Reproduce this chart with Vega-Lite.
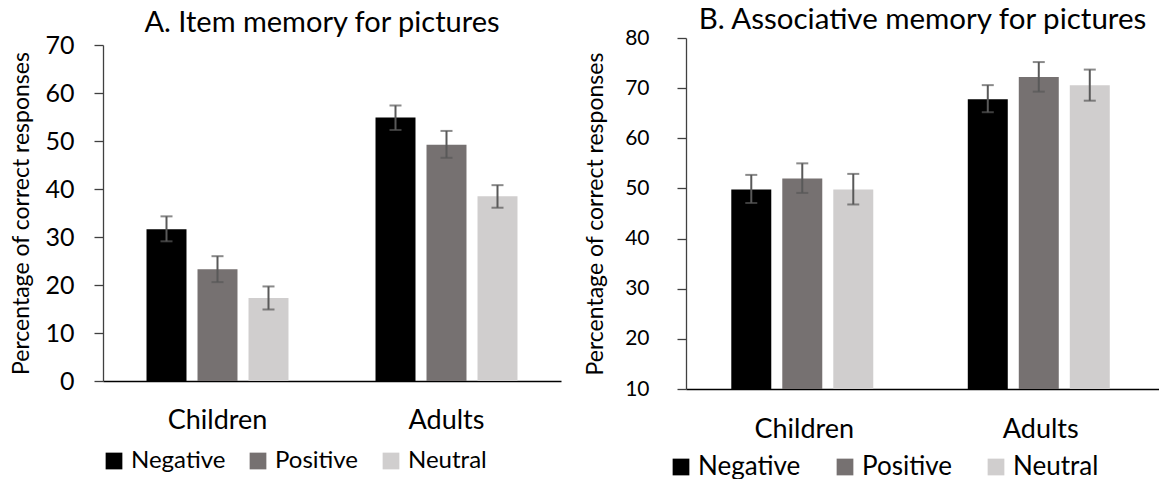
{
  "$schema": "https://vega.github.io/schema/vega-lite/v6.json",
  "background": "white",
  "padding": {"left": 10, "top": 5, "right": 0, "bottom": 0},
  "config": {"font": "Lato", "view": {"stroke": null}},
  "spacing": 23,
  "center": true,
  "resolve": {"scale": {"color": "independent"}, "legend": {"color": "independent"}},
  "hconcat": [
    {
      "width": 458,
      "height": 336,
      "title": {"text": "A. Item memory for pictures", "fontSize": 29, "fontWeight": "normal", "color": "#000000", "offset": -5, "dx": -10},
      "data": {"values": [
        {"group": "Children", "valence": "Negative", "value": 31.6, "lo": 29.1, "hi": 34.3},
        {"group": "Children", "valence": "Positive", "value": 23.3, "lo": 20.6, "hi": 26.0},
        {"group": "Children", "valence": "Neutral", "value": 17.3, "lo": 14.9, "hi": 19.7},
        {"group": "Adults", "valence": "Negative", "value": 54.9, "lo": 52.3, "hi": 57.4},
        {"group": "Adults", "valence": "Positive", "value": 49.2, "lo": 46.5, "hi": 52.1},
        {"group": "Adults", "valence": "Neutral", "value": 38.5, "lo": 36.1, "hi": 40.8}
      ]},
      "encoding": {
        "x": {"field": "group", "type": "nominal", "sort": ["Children", "Adults"],
          "scale": {"paddingInner": 0.38, "paddingOuter": 0.19},
          "axis": {"title": null, "labelAngle": 0, "ticks": false, "tickSize": 0, "labelPadding": 26, "labelFontSize": 27, "labelColor": "#000000", "domainColor": "#000000", "domainWidth": 1.5}},
        "xOffset": {"field": "valence", "type": "nominal", "sort": ["Negative", "Positive", "Neutral"],
          "scale": {"paddingInner": 0.216, "paddingOuter": 0}}
      },
      "layer": [
        {
          "mark": {"type": "bar"},
          "encoding": {
            "y": {"field": "value", "type": "quantitative", "title": "Percentage of correct responses",
              "scale": {"domain": [0, 70]},
              "axis": {"values": [0, 10, 20, 30, 40, 50, 60, 70], "grid": false, "titleFontSize": 23, "titleFontWeight": "normal", "titleColor": "#000000", "titlePadding": 11, "labelFontSize": 25, "labelColor": "#000000", "labelPadding": 20, "tickSize": 9, "tickColor": "#404040", "domainColor": "#404040", "domainWidth": 1.3, "tickWidth": 1.3}},
            "color": {"field": "valence", "type": "nominal",
              "scale": {"domain": ["Negative", "Positive", "Neutral"], "range": ["#000000", "#767171", "#D0CECE"]},
              "legend": {"title": null, "orient": "none", "legendX": -1, "legendY": 404, "direction": "horizontal", "symbolType": "square", "symbolSize": 280, "symbolStrokeWidth": 0, "symbolOpacity": 1, "labelFontSize": 24, "labelColor": "#000000", "labelOffset": 5, "columnPadding": 20, "padding": 0}}
          }
        },
        {
          "mark": {"type": "rule", "color": "#595959", "strokeWidth": 2},
          "encoding": {"y": {"field": "lo", "type": "quantitative", "title": "Percentage of correct responses"}, "y2": {"field": "hi"}}
        },
        {
          "mark": {"type": "tick", "color": "#595959", "thickness": 2, "size": 12},
          "encoding": {"y": {"field": "lo", "type": "quantitative", "title": "Percentage of correct responses"}}
        },
        {
          "mark": {"type": "tick", "color": "#595959", "thickness": 2, "size": 12},
          "encoding": {"y": {"field": "hi", "type": "quantitative", "title": "Percentage of correct responses"}}
        }
      ]
    },
    {
      "width": 473,
      "height": 351,
      "title": {"text": "B. Associative memory for pictures", "fontSize": 29.5, "fontWeight": "normal", "color": "#000000", "offset": -8.5},
      "data": {"values": [
        {"group": "Children", "valence": "Negative", "value": 49.8, "lo": 47.1, "hi": 52.7},
        {"group": "Children", "valence": "Positive", "value": 52.0, "lo": 49.1, "hi": 55.0},
        {"group": "Children", "valence": "Neutral", "value": 49.8, "lo": 46.8, "hi": 52.9},
        {"group": "Adults", "valence": "Negative", "value": 67.8, "lo": 65.2, "hi": 70.6},
        {"group": "Adults", "valence": "Positive", "value": 72.2, "lo": 69.3, "hi": 75.2},
        {"group": "Adults", "valence": "Neutral", "value": 70.6, "lo": 67.5, "hi": 73.7}
      ]},
      "encoding": {
        "x": {"field": "group", "type": "nominal", "sort": ["Children", "Adults"],
          "scale": {"paddingInner": 0.383, "paddingOuter": 0.1915},
          "axis": {"title": null, "labelAngle": 0, "ticks": false, "tickSize": 0, "labelPadding": 27, "labelFontSize": 27, "labelColor": "#000000", "domainColor": "#000000", "domainWidth": 1.5}},
        "xOffset": {"field": "valence", "type": "nominal", "sort": ["Negative", "Positive", "Neutral"],
          "scale": {"paddingInner": 0.211, "paddingOuter": 0}}
      },
      "layer": [
        {
          "mark": {"type": "bar"},
          "encoding": {
            "y": {"field": "value", "type": "quantitative", "title": "Percentage of correct responses",
              "scale": {"domain": [10, 80], "zero": false},
              "axis": {"values": [10, 20, 30, 40, 50, 60, 70, 80], "grid": false, "titleFontSize": 23, "titleFontWeight": "normal", "titleColor": "#000000", "titlePadding": 17, "labelFontSize": 21, "labelColor": "#000000", "labelPadding": 28, "tickSize": 9, "tickColor": "#404040", "domainColor": "#404040", "domainWidth": 1.3, "tickWidth": 1.3}},
            "y2": {"datum": 10},
            "color": {"field": "valence", "type": "nominal",
              "scale": {"domain": ["Negative", "Positive", "Neutral"], "range": ["#000000", "#767171", "#D0CECE"]},
              "legend": {"title": null, "orient": "none", "legendX": -18, "legendY": 416, "direction": "horizontal", "symbolType": "square", "symbolSize": 280, "symbolStrokeWidth": 0, "symbolOpacity": 1, "labelFontSize": 26, "labelColor": "#000000", "labelOffset": 4, "columnPadding": 31, "padding": 0}}
          }
        },
        {
          "mark": {"type": "rule", "color": "#595959", "strokeWidth": 2},
          "encoding": {"y": {"field": "lo", "type": "quantitative", "title": "Percentage of correct responses"}, "y2": {"field": "hi"}}
        },
        {
          "mark": {"type": "tick", "color": "#595959", "thickness": 2, "size": 12},
          "encoding": {"y": {"field": "lo", "type": "quantitative", "title": "Percentage of correct responses"}}
        },
        {
          "mark": {"type": "tick", "color": "#595959", "thickness": 2, "size": 12},
          "encoding": {"y": {"field": "hi", "type": "quantitative", "title": "Percentage of correct responses"}}
        }
      ]
    }
  ]
}
